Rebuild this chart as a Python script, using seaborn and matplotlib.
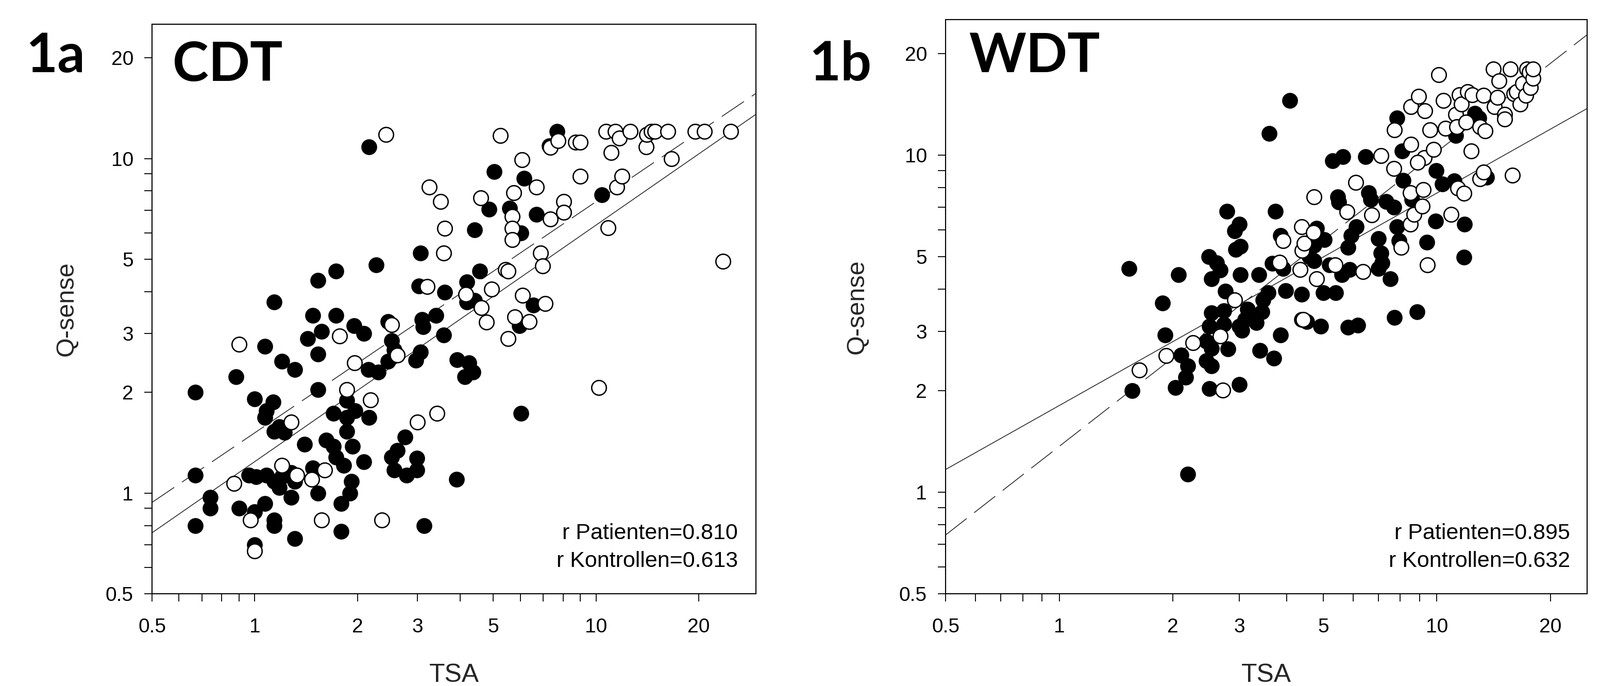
import numpy as np
import pandas as pd
import matplotlib
matplotlib.use("Agg")
import matplotlib.pyplot as plt
from matplotlib.ticker import FixedLocator, FixedFormatter, NullFormatter
import seaborn as sns

W, H, DPI = 3105, 1331, 100

# CDT panel (1a): filled = Patienten, open = Kontrollen
cdt_pat_tsa = [0.67, 0.67, 0.74, 0.74, 0.67, 0.88, 0.90, 1.00, 1.07, 1.14,
               1.20, 1.31, 1.08, 1.13, 1.07, 1.14, 1.22, 1.18, 0.96, 1.01,
               1.08, 1.14, 1.20, 1.28, 1.31, 1.18, 1.00, 1.07, 1.14, 1.14,
               1.28, 1.31, 1.00, 1.48, 1.53, 1.73, 1.43, 1.57, 1.53, 1.73,
               1.95, 2.09, 1.53, 1.40, 1.48, 1.53, 1.62, 1.70, 1.73, 1.70,
               1.86, 1.97, 1.86, 1.86, 1.93, 1.82, 1.92, 1.90, 1.79, 1.79,
               2.09, 2.16, 2.16, 2.27, 2.15, 2.30, 2.46, 2.52, 2.56, 2.46,
               2.76, 2.52, 2.62, 2.56, 2.78, 2.98, 2.98, 3.13, 3.06, 3.03,
               3.09, 3.11, 3.40, 2.96, 3.06, 3.58, 3.60, 3.90, 3.92, 4.24,
               4.13, 4.36, 4.18, 4.18, 4.41, 4.56, 4.41, 4.86, 5.03, 5.58,
               6.02, 6.15, 6.68, 6.54, 5.97, 6.02, 7.68, 7.29, 10.4]
cdt_pat_qs = [2.00, 1.13, 0.97, 0.90, 0.80, 2.23, 0.90, 1.91, 2.74, 3.73,
              2.48, 2.34, 1.76, 1.87, 1.68, 1.53, 1.52, 1.58, 1.13, 1.12,
              1.13, 1.085, 1.12, 1.15, 1.085, 1.04, 0.88, 0.93, 0.83, 0.80,
              0.97, 0.73, 0.70, 3.40, 4.32, 4.60, 2.89, 3.04, 2.60, 3.40,
              3.16, 3.00, 2.04, 1.40, 1.19, 1.00, 1.44, 1.38, 1.28, 1.73,
              1.68, 1.76, 1.89, 1.53, 1.38, 1.21, 1.085, 1.00, 0.93, 0.767,
              1.24, 1.68, 10.85, 4.80, 2.34, 2.30, 2.48, 2.85, 2.68, 3.25,
              1.47, 1.28, 1.34, 1.17, 1.13, 1.27, 1.17, 0.80, 5.22, 4.15,
              3.30, 3.14, 3.40, 2.49, 2.64, 2.97, 3.99, 1.10, 2.50, 2.45,
              2.23, 2.30, 4.27, 3.73, 6.12, 4.60, 3.77, 7.05, 9.14, 7.11,
              6.00, 8.72, 6.80, 3.64, 3.16, 1.73, 12.05, 10.9, 7.80]
cdt_ctl_tsa = [0.90, 0.87, 0.97, 1.00, 1.28, 1.20, 1.33, 1.47, 1.60, 1.57,
               1.77, 1.86, 1.96, 2.18, 2.36, 2.42, 2.52, 2.62, 3.00, 3.24,
               3.50, 3.60, 3.58, 3.20, 3.42, 4.15, 4.60, 4.61, 4.78, 4.94,
               5.25, 5.42, 5.52, 5.67, 5.67, 5.67, 5.74, 6.06, 6.08, 5.77,
               5.52, 6.36, 6.68, 6.87, 6.97, 7.10, 7.34, 7.34, 7.73, 8.03,
               8.03, 8.70, 9.00, 9.00, 10.7, 11.06, 11.4, 11.7, 11.5, 11.9,
               12.6, 10.85, 10.2, 14.0, 14.05, 14.5, 14.9, 16.2, 16.6, 19.5,
               20.8, 24.8, 23.5]
cdt_ctl_qs = [2.78, 1.07, 0.83, 0.67, 1.63, 1.21, 1.13, 1.10, 1.17, 0.83,
              2.95, 2.04, 2.45, 1.90, 0.83, 11.8, 3.18, 2.58, 1.63, 8.22,
              7.45, 6.18, 5.22, 4.14, 1.73, 3.93, 7.62, 3.58, 3.24, 4.07,
              11.7, 4.66, 4.60, 6.70, 6.18, 5.73, 7.91, 9.90, 3.90, 3.36,
              2.89, 3.25, 8.22, 5.22, 4.78, 3.69, 6.60, 10.8, 11.3, 7.45,
              6.90, 11.2, 11.2, 8.84, 12.05, 10.4, 12.05, 11.5, 8.22, 8.84,
              12.05, 6.20, 2.07, 10.85, 11.8, 12.05, 12.05, 12.05, 10.0, 12.05,
              12.05, 12.05, 4.92]

# WDT panel (1b)
wdt_pat_tsa = [1.53, 1.56, 1.875, 1.905, 2.07, 2.10, 2.03, 2.19, 2.16, 2.19,
               2.49, 2.61, 2.67, 2.53, 2.75, 2.53, 2.73, 2.50, 2.73, 2.45,
               2.53, 2.45, 2.53, 2.50, 2.78, 2.91, 3.00, 2.93, 3.02, 3.02,
               2.80, 3.00, 3.00, 3.05, 3.15, 3.10, 3.25, 3.33, 3.38, 3.44,
               3.46, 3.57, 3.40, 3.70, 3.86, 3.60, 4.08, 3.74, 3.86, 3.66,
               3.92, 3.98, 4.38, 4.38, 4.52, 4.73, 4.81, 4.73, 4.59, 5.04,
               5.00, 4.93, 5.40, 5.20, 5.30, 5.63, 5.46, 5.50, 5.61, 5.88,
               5.81, 5.93, 6.12, 5.81, 6.18, 6.48, 6.60, 6.69, 7.35, 7.70,
               7.01, 7.12, 7.16, 7.01, 7.53, 7.73, 7.83, 8.08, 8.14, 7.83,
               7.95, 8.60, 8.87, 9.40, 9.95, 9.91, 10.35, 11.1, 11.23, 11.78,
               11.84, 12.6, 12.94, 13.56]
wdt_pat_qs = [4.60, 2.00, 3.64, 2.92, 4.41, 2.55, 2.04, 2.37, 2.19, 1.13,
              5.00, 4.79, 4.55, 4.30, 3.95, 3.40, 3.45, 3.11, 3.15, 2.80,
              2.67, 2.45, 2.37, 2.03, 6.80, 5.96, 6.24, 5.25, 5.36, 4.41,
              2.66, 2.09, 3.11, 3.02, 3.49, 3.25, 3.34, 3.18, 4.42, 3.43,
              3.72, 3.91, 2.63, 2.50, 2.92, 11.57, 14.5, 6.80, 5.77, 4.77,
              4.60, 3.96, 3.86, 3.25, 3.20, 4.85, 6.06, 5.40, 5.00, 5.60,
              3.91, 3.11, 3.91, 4.72, 9.60, 9.90, 7.50, 7.25, 4.41, 4.58,
              5.32, 5.77, 6.12, 3.08, 3.13, 9.90, 7.73, 7.39, 7.28, 7.00,
              5.65, 5.12, 4.79, 4.60, 4.30, 3.30, 12.85, 10.27, 8.40, 6.12,
              5.56, 7.39, 3.43, 5.52, 9.00, 6.37, 8.20, 8.37, 11.4, 4.98,
              6.24, 13.3, 12.85, 8.60]
wdt_ctl_tsa = [1.63, 1.92, 2.26, 2.67, 2.71, 2.91, 3.83, 3.92, 4.35, 4.38,
               4.40, 4.45, 4.42, 4.71, 4.73, 4.81, 5.37, 5.78, 6.10, 6.38,
               6.72, 7.12, 7.70, 8.04, 7.73, 8.54, 8.54, 8.94, 8.50, 8.50,
               8.70, 9.20, 9.16, 9.25, 9.30, 9.45, 9.60, 9.80, 10.1, 10.4,
               10.55, 10.9, 11.23, 11.48, 11.3, 11.6, 11.36, 11.78, 12.07, 12.4,
               12.34, 11.96, 13.0, 13.4, 13.3, 13.0, 13.3, 14.1, 14.2, 14.6,
               14.45, 15.1, 15.14, 15.63, 15.87, 16.0, 16.25, 16.63, 16.9, 17.2,
               17.3, 17.6, 17.7, 18.0, 18.0, 8.90]
wdt_ctl_qs = [2.30, 2.54, 2.77, 2.90, 2.01, 3.72, 4.80, 5.56, 4.58, 6.12,
              5.20, 5.48, 3.25, 5.90, 7.50, 4.30, 4.72, 6.78, 8.30, 4.51,
              6.64, 9.97, 9.12, 5.32, 11.86, 13.9, 10.75, 14.9, 7.73, 6.24,
              6.66, 7.90, 7.06, 9.80, 13.5, 4.72, 11.86, 10.4, 17.3, 14.5,
              12.0, 6.66, 13.2, 15.1, 12.1, 14.15, 7.97, 7.70, 15.4, 15.1,
              10.27, 12.5, 12.1, 11.8, 15.0, 8.50, 8.90, 18.0, 13.9, 16.6,
              14.8, 13.2, 12.77, 18.0, 8.70, 15.2, 15.4, 14.15, 16.3, 15.0,
              18.0, 17.6, 15.85, 16.9, 18.0, 9.50]

# regression lines on log-log: (log10 intercept at TSA=1, slope)
cdt_dashed_fit = (0.180, 0.691)
cdt_solid_fit = (0.094, 0.707)
wdt_dashed_fit = (0.136, 0.873)
wdt_solid_fit = (0.257, 0.630)

tick_vals = [0.5, 1, 2, 3, 5, 10, 20]
tick_labels = ["0.5", "1", "2", "3", "5", "10", "20"]
minor_vals = [0.6, 0.7, 0.8, 0.9, 4, 6, 7, 8, 9]

r_text = {
    "CDT": ["r Patienten=0.810", "r Kontrollen=0.613"],
    "WDT": ["r Patienten=0.895", "r Kontrollen=0.632"],
}

sns.set_theme(style="ticks")
plt.rcParams["font.family"] = ["Liberation Sans", "DejaVu Sans"]

fig = plt.figure(figsize=(W / DPI, H / DPI), dpi=DPI)
fig.patch.set_facecolor("white")


def px_box(left, right, top, bottom):
    return [left / W, 1 - bottom / H, (right - left) / W, (bottom - top) / H]


def draw_panel(ax, pat_x, pat_y, ctl_x, ctl_y, dashed, solid, xmax, ymax):
    pat = pd.DataFrame({"TSA": pat_x, "Q-sense": pat_y})
    ctl = pd.DataFrame({"TSA": ctl_x, "Q-sense": ctl_y})
    ax.set_xscale("log")
    ax.set_yscale("log")

    xs = np.geomspace(0.5, xmax, 60)
    for (a, b), ls in [(dashed, (0, (34, 12))), (solid, "-")]:
        ax.plot(xs, 10 ** (a + b * np.log10(xs)), color="#222222",
                lw=1.1, ls=ls, zorder=2)

    sns.scatterplot(data=pat, x="TSA", y="Q-sense", ax=ax, s=420,
                    color="black", edgecolor="black", linewidth=1.6, zorder=3)
    sns.scatterplot(data=ctl, x="TSA", y="Q-sense", ax=ax, s=420,
                    color="white", edgecolor="black", linewidth=1.9, zorder=4)

    ax.set_xlim(0.5, xmax)
    ax.set_ylim(0.5, ymax)
    for axis in (ax.xaxis, ax.yaxis):
        axis.set_major_locator(FixedLocator(tick_vals))
        axis.set_major_formatter(FixedFormatter(tick_labels))
        axis.set_minor_locator(FixedLocator(minor_vals))
        axis.set_minor_formatter(NullFormatter())
    ax.tick_params(which="both", direction="out", length=11, width=1.3,
                   color="black", labelsize=28, labelcolor="black")
    ax.tick_params(axis="x", which="major", pad=23)
    ax.tick_params(axis="y", which="major", pad=15)
    for sp in ax.spines.values():
        sp.set_visible(True)
        sp.set_linewidth(1.5)
        sp.set_color("black")
    ax.set_facecolor("white")
    ax.grid(False)
    ax.set_xlabel("TSA", fontsize=36)
    ax.set_ylabel("Q-sense", fontsize=35)


# panel 1a
ax1 = fig.add_axes(px_box(295, 1467, 47, 1152))
draw_panel(ax1, cdt_pat_tsa, cdt_pat_qs, cdt_ctl_tsa, cdt_ctl_qs,
           cdt_dashed_fit, cdt_solid_fit, 29.4, 25.2)
ax1.xaxis.set_label_coords(0.5, -0.122)
ax1.yaxis.set_label_coords(-0.122, 0.5)

# panel 1b
ax2 = fig.add_axes(px_box(1835, 3080, 38, 1152))
draw_panel(ax2, wdt_pat_tsa, wdt_pat_qs, wdt_ctl_tsa, wdt_ctl_qs,
           wdt_dashed_fit, wdt_solid_fit, 25.0, 25.2)
ax2.xaxis.set_label_coords(0.5, -0.121)
ax2.yaxis.set_label_coords(-0.120, 0.5)

# panel letters and test names
bold = dict(family=["Lato", "DejaVu Sans"], weight="bold", fontsize=76,
            va="baseline", ha="left", color="black")
fig.text(50 / W, 1 - 140 / H, "1a", **bold)
fig.text(335 / W, 1 - 157 / H, "CDT", **bold)
fig.text(1570 / W, 1 - 155 / H, "1b", **bold)
fig.text(1880 / W, 1 - 140 / H, "WDT", **bold)

# correlation notes
for (x_right, lines) in [(1432, r_text["CDT"]), (3047, r_text["WDT"])]:
    for base_y, s in zip([1046, 1100], lines):
        fig.text(x_right / W, 1 - base_y / H, s, fontsize=31, ha="right",
                 va="baseline", color="black")

fig.savefig("out.png", dpi=DPI, facecolor="white")
